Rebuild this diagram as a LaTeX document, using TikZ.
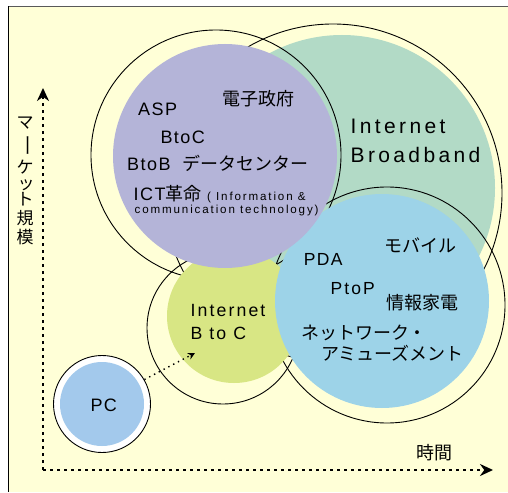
\documentclass[tikz,border=0pt]{standalone}
\usepackage{fontspec}
\usepackage{graphicx}
\setmainfont{Liberation Sans}
\newfontfamily\latS[LetterSpace=8]{Liberation Sans}
\newfontfamily\latM[LetterSpace=12]{Liberation Sans}
\newfontfamily\latL[LetterSpace=16]{Liberation Sans}
\newfontfamily\jp{Noto Sans CJK JP}
\usetikzlibrary{arrows.meta}
\newcommand\myfs[1]{\fontsize{#1}{#1}\selectfont}
\definecolor{cream}{RGB}{255,255,215}
\definecolor{cpurple}{RGB}{180,180,216}
\definecolor{cgreen}{RGB}{178,218,198}
\definecolor{cblue}{RGB}{157,211,232}
\definecolor{cyellow}{RGB}{216,230,132}
\definecolor{cpc}{RGB}{163,201,236}
\begin{document}
\begin{tikzpicture}[x=1pt,y=-1pt,
  txt/.style={inner sep=0pt, anchor=base west, text=black},
  ring/.style={draw=black, line width=0.9pt},
  vchar/.style={inner sep=0pt, anchor=center, font=\jp\myfs{17}},
  axis/.style={line width=2.6pt, dash pattern=on 2.6pt off 4.4pt, -{Stealth[length=13pt,width=12pt]}}]
\useasboundingbox (0,0) rectangle (508,492);
\fill[white] (0,0) rectangle (508,492);
\fill[cream] (8.5,6.5) rectangle (508,492);
\draw[line width=1pt, black!65] (8.5,6.5) -- (508,6.5);
\draw[line width=1pt, black] (8.5,6.5) -- (8.5,492);
% green fill
\fill[cgreen] (342,188) circle[radius=153];
% outlines
\draw[ring] (333,193) circle[radius=169];
\draw[ring] (216,155) circle[radius=125];
\draw[ring] (223,328) circle[radius=76];
\draw[ring] (387,305) circle[radius=118];
% fills
\fill[cyellow] (234,316) circle[radius=67];
\fill[cblue] (382,301) circle[radius=107];
\fill[cpurple] (225,156) circle[radius=112];
% PC
\node[circle, draw=black, line width=0.9pt, fill=white, minimum size=97pt, inner sep=0pt] (pcring) at (102,404) {};
\node[circle, fill=cpc, minimum size=84pt, inner sep=0pt] (pcfill) at (102,404) {};
% axes
\coordinate (origin) at (43,470);
\coordinate (ytip) at (43,88);
\coordinate (xtip) at (493,470);
\draw[axis] (origin) -- (ytip);
\draw[axis] (origin) -- (xtip);
\coordinate (btocend) at (195,353);
\draw[line width=1.4pt, dash pattern=on 1.4pt off 4pt, -{Stealth[length=7pt,width=7pt]}] (pcring.30) -- (btocend);
% texts
\node[txt, font=\latS\myfs{18}] (asp) at (138,115) {ASP};
\node[txt, font=\jp\myfs{18}] (egov) at (222,105.5) {電子政府};
\node[txt, font=\latS\myfs{18}] (btoc) at (160.3,143.3) {BtoC};
\node[txt, font=\latS\myfs{18}] (btob) at (127,170) {BtoB};
\node[txt, font=\jp\myfs{18}] (dc) at (182.5,170.4) {データセンター};
\node[txt, font=\latS\myfs{18}] (ict) at (133.5,200) {ICT{\jp 革命}};
\node[txt, font=\latL\myfs{11.6}] (info) at (207,200) {( Information \&};
\node[txt, font=\latL\myfs{11.6}] (comm) at (134.5,213.5) {communication technology)};
\node[txt, font=\latL\myfs{21}] (ib1) at (350.5,133.3) {Internet};
\node[txt, font=\latL\myfs{21}] (ib2) at (350.5,162.3) {Broadband};
\node[txt, font=\jp\myfs{18}] (mob) at (384.5,252) {モバイル};
\node[txt, font=\latS\myfs{17.5}] (pda) at (303.7,265.7) {PDA};
\node[txt, font=\latM\myfs{17.5}] (ptop) at (330.4,294) {PtoP};
\node[txt, font=\jp\myfs{18}] (joho) at (386,309) {情報家電};
\node[txt, font=\jp\myfs{18}] (net1) at (301,339) {ネットワーク・};
\node[txt, font=\jp\myfs{18}] (net2) at (321,360.5) {アミューズメント};
\node[txt, font=\latM\myfs{17.7}] (ibc1) at (190.3,316) {Internet};
\node[txt, font=\latM\myfs{17.7}] (ibc2) at (190.3,339.3) {B to C};
\node[txt, font=\latS\myfs{18}] (pc) at (90.3,411) {PC};
\node[txt, font=\jp\myfs{18}] (jikan) at (416,459.5) {時間};
% vertical label
\node[vchar] (v1) at (25,123.3) {マ};
\node[vchar] (v2) at (25,145.8) {\rotatebox[origin=c]{-90}{\scalebox{1.3}[1]{ー}}};
\node[vchar] (v3) at (25,166.7) {ケ};
\node[vchar] (v4) at (26,185.2) {ッ};
\node[vchar] (v5) at (25,199.2) {ト};
\node[vchar] (v6) at (25,218.3) {規};
\node[vchar] (v7) at (25,236.9) {模};
\end{tikzpicture}
\end{document}
